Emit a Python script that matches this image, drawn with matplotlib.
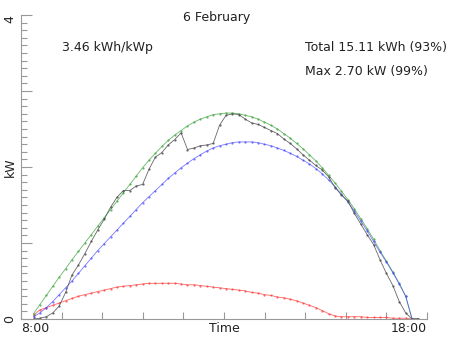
import numpy as np
import matplotlib
matplotlib.use("Agg")
import matplotlib.pyplot as plt
from matplotlib.ticker import MultipleLocator, FixedLocator

# 10-minute samples from 8:00 to 18:00
hours = [8 + i / 6 for i in range(61)]

actual = [0.00, 0.01, 0.03, 0.08, 0.17, 0.35, 0.58, 0.71, 0.86, 1.02,
          1.17, 1.31, 1.47, 1.60, 1.69, 1.69, 1.75, 1.77, 1.97, 2.13,
          2.19, 2.29, 2.36, 2.45, 2.23, 2.25, 2.28, 2.29, 2.31, 2.55,
          2.68, 2.70, 2.69, 2.63, 2.58, 2.56, 2.52, 2.48, 2.44, 2.37,
          2.31, 2.24, 2.16, 2.09, 2.02, 1.96, 1.87, 1.73, 1.63, 1.55,
          1.39, 1.25, 1.11, 0.98, 0.78, 0.60, 0.44, 0.23, 0.08, 0.00, 0.00]

clearsky = [0.07, 0.19, 0.31, 0.43, 0.55, 0.66, 0.78, 0.89, 1.00, 1.11,
            1.22, 1.33, 1.44, 1.55, 1.66, 1.77, 1.88, 1.99, 2.09, 2.18,
            2.27, 2.35, 2.42, 2.48, 2.54, 2.59, 2.63, 2.66, 2.69, 2.70,
            2.71, 2.71, 2.70, 2.68, 2.66, 2.63, 2.59, 2.55, 2.50, 2.44,
            2.38, 2.31, 2.24, 2.16, 2.08, 1.99, 1.89, 1.79, 1.68, 1.57,
            1.45, 1.32, 1.19, 1.05, 0.90, 0.76, 0.62, 0.47, 0.30, 0.00, 0.00]

direct = [0.03, 0.08, 0.15, 0.23, 0.32, 0.41, 0.50, 0.60, 0.70, 0.80,
          0.90, 0.99, 1.08, 1.17, 1.26, 1.35, 1.44, 1.53, 1.61, 1.69,
          1.77, 1.85, 1.92, 1.99, 2.05, 2.11, 2.16, 2.21, 2.25, 2.28,
          2.30, 2.32, 2.33, 2.33, 2.33, 2.32, 2.30, 2.28, 2.25, 2.22,
          2.18, 2.14, 2.09, 2.04, 1.98, 1.91, 1.83, 1.74, 1.64, 1.54,
          1.42, 1.29, 1.16, 1.02, 0.88, 0.75, 0.61, 0.46, 0.30, 0.00, 0.00]

diffuse = [0.05, 0.12, 0.15, 0.18, 0.21, 0.24, 0.27, 0.30, 0.32, 0.34,
           0.36, 0.38, 0.40, 0.42, 0.43, 0.44, 0.45, 0.46, 0.47, 0.47,
           0.47, 0.47, 0.47, 0.46, 0.45, 0.45, 0.44, 0.43, 0.42, 0.41,
           0.40, 0.39, 0.38, 0.37, 0.35, 0.34, 0.32, 0.31, 0.29, 0.28,
           0.26, 0.24, 0.21, 0.18, 0.15, 0.11, 0.07, 0.04, 0.03, 0.03,
           0.03, 0.03, 0.02, 0.02, 0.02, 0.02, 0.01, 0.01, 0.01, 0.00, 0.00]

title = "6 February"
specific = "3.46 kWh/kWp"
total_txt = "Total 15.11 kWh (93%)"
max_txt = "Max 2.70 kW (99%)"

W, H = 452, 339
fig = plt.figure(figsize=(W / 100, H / 100), dpi=100)
ax = fig.add_axes([21 / W, 1 - 319 / H, (427 - 21) / W, (319 - 15) / H])

# x range: 8:00 at px 33.5, 18:00 at px 418.5
pxh = (418.5 - 33.5) / 10
x0 = 8 - (33.5 - 21) / pxh
x1 = 18 + (427 - 418.5) / pxh
ax.set_xlim(x0, x1)
ax.set_ylim(0, 4)

lw = 0.6
ms = 1.2
ax.plot(hours, diffuse, color=(1.0, 0.25, 0.25), lw=lw, marker='.', ms=ms, alpha=0.8)
ax.plot(hours, clearsky, color=(0.25, 0.65, 0.25), lw=lw, marker='.', ms=ms, alpha=0.8)
ax.plot(hours, direct, color=(0.25, 0.25, 1.0), lw=lw, marker='.', ms=ms, alpha=0.7)
ax.plot(hours, actual, color=(0.3, 0.3, 0.3), lw=lw, marker='.', ms=ms, alpha=0.85)

for s in ['top', 'right']:
    ax.spines[s].set_visible(False)
for s in ['left', 'bottom']:
    ax.spines[s].set_color('#999999')
    ax.spines[s].set_linewidth(0.8)

ax.yaxis.set_major_locator(MultipleLocator(1))
ax.yaxis.set_minor_locator(MultipleLocator(0.1))
ax.set_yticklabels([])
ax.xaxis.set_major_locator(FixedLocator(list(np.linspace(x0, x1, 11))))
ax.xaxis.set_minor_locator(FixedLocator([8.0]))
ax.set_xticklabels([])
ax.tick_params(which='both', direction='in', color='#999999', width=0.8)
ax.tick_params(axis='y', which='major', length=8)
ax.tick_params(axis='y', which='minor', length=4)
ax.tick_params(axis='x', which='major', length=5)
ax.tick_params(axis='x', which='minor', length=3)

tc = '#222222'
fs = 9
def ftext(px, py, s, **kw):
    fig.text(px / W, 1 - py / H, s, fontsize=fs, color=tc, **kw)

ftext(10, 319, "0", rotation=90, ha='center', va='center')
ftext(10, 19, "4", rotation=90, ha='center', va='center')
ftext(10, 167, "kW", rotation=90, ha='center', va='center')
ftext(21, 328, "8:00", ha='left', va='center')
ftext(427, 328, "18:00", ha='right', va='center')
ftext(224, 328, "Time", ha='center', va='center')
ftext(217, 17, title, ha='center', va='center')
ftext(62, 47, specific, ha='left', va='center')
ftext(305, 47, total_txt, ha='left', va='center')
ftext(305, 71, max_txt, ha='left', va='center')

fig.savefig("out.png", dpi=100)
